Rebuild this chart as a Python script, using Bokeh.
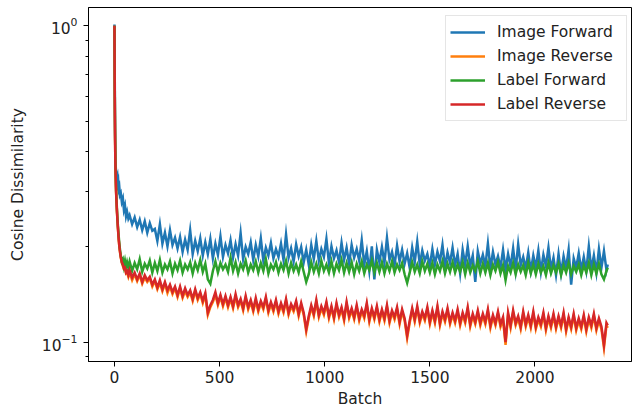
from bokeh.plotting import figure
from bokeh.models import Range1d, FixedTicker, LogTickFormatter
from bokeh.embed import file_html
from bokeh.resources import INLINE

# ---------------- data ----------------
batch = ([0, 1, 2, 3, 4, 5, 6, 7, 8, 10, 12, 14, 16, 18, 20, 23, 26, 30, 35, 40, 45, 50, 55, 60, 66]
         + list(range(72, 2341, 12)) + [2346])

image_forward = [
    1.01, 0.78, 0.58, 0.47, 0.41, 0.375, 0.36, 0.35, 0.342, 0.338, 0.33, 0.334, 0.318, 0.322, 0.305,
    0.31, 0.292, 0.296, 0.278, 0.285, 0.262, 0.27, 0.25, 0.258, 0.246,
    0.252, 0.236, 0.248, 0.231, 0.244, 0.226, 0.241, 0.222, 0.238, 0.225,
    0.228, 0.209, 0.236, 0.205, 0.222, 0.201, 0.226, 0.203, 0.214, 0.198,
    0.215, 0.193, 0.211, 0.196, 0.226, 0.19, 0.209, 0.194, 0.213, 0.188,
    0.207, 0.19, 0.212, 0.184, 0.205, 0.189, 0.216, 0.186, 0.203, 0.191,
    0.21, 0.185, 0.204, 0.188, 0.221, 0.183, 0.2, 0.19, 0.207, 0.182,
    0.203, 0.187, 0.213, 0.181, 0.199, 0.188, 0.206, 0.184, 0.197, 0.186,
    0.205, 0.182, 0.219, 0.185, 0.198, 0.18, 0.204, 0.187, 0.2, 0.179,
    0.196, 0.176, 0.203, 0.183, 0.209, 0.181, 0.197, 0.186, 0.212, 0.178,
    0.201, 0.184, 0.195, 0.179, 0.206, 0.182, 0.199, 0.177, 0.203, 0.185,
    0.197, 0.181, 0.21, 0.176, 0.194, 0.168, 0.201, 0.158, 0.196, 0.179,
    0.2, 0.178, 0.214, 0.182, 0.193, 0.175, 0.202, 0.18, 0.196, 0.177,
    0.191, 0.172, 0.199, 0.179, 0.208, 0.176, 0.195, 0.181, 0.19, 0.174,
    0.197, 0.176, 0.193, 0.18, 0.203, 0.173, 0.192, 0.178, 0.199, 0.175,
    0.19, 0.165, 0.196, 0.176, 0.201, 0.174, 0.188, 0.155, 0.194, 0.177,
    0.189, 0.174, 0.205, 0.171, 0.193, 0.176, 0.187, 0.172, 0.196, 0.17,
    0.19, 0.173, 0.198, 0.169, 0.204, 0.175, 0.186, 0.171, 0.192, 0.168,
    0.188, 0.172, 0.195, 0.167, 0.189, 0.174, 0.199, 0.17, 0.185, 0.163,
    0.19, 0.165, 0.187, 0.171, 0.196, 0.152, 0.184, 0.172, 0.191, 0.169,
    0.186, 0.168, 0.201, 0.17, 0.188, 0.166, 0.197, 0.172, 0.194, 0.169,
    0.176,
]

image_reverse = [
    1.0, 0.7, 0.52, 0.43, 0.38, 0.35, 0.33, 0.31, 0.294, 0.274, 0.257, 0.243, 0.231, 0.221, 0.211,
    0.201, 0.193, 0.185, 0.178, 0.174, 0.17, 0.17, 0.165, 0.166, 0.161,
    0.166, 0.157, 0.164, 0.156, 0.163, 0.153, 0.16, 0.155, 0.159, 0.15,
    0.156, 0.147, 0.154, 0.145, 0.153, 0.143, 0.15, 0.142, 0.148, 0.139,
    0.148, 0.138, 0.145, 0.139, 0.144, 0.135, 0.145, 0.136, 0.142, 0.133,
    0.141, 0.122, 0.129, 0.134, 0.141, 0.131, 0.139, 0.13, 0.138, 0.129,
    0.137, 0.128, 0.139, 0.129, 0.135, 0.126, 0.138, 0.127, 0.134, 0.125,
    0.135, 0.125, 0.133, 0.127, 0.137, 0.124, 0.132, 0.125, 0.134, 0.123,
    0.131, 0.124, 0.135, 0.122, 0.13, 0.125, 0.133, 0.121, 0.131, 0.122,
    0.108, 0.119, 0.129, 0.121, 0.134, 0.12, 0.128, 0.122, 0.132, 0.119,
    0.128, 0.118, 0.131, 0.12, 0.127, 0.117, 0.132, 0.119, 0.126, 0.118,
    0.129, 0.117, 0.125, 0.119, 0.131, 0.116, 0.126, 0.118, 0.128, 0.116,
    0.125, 0.117, 0.129, 0.115, 0.124, 0.118, 0.127, 0.114, 0.125, 0.117,
    0.103, 0.115, 0.126, 0.116, 0.128, 0.115, 0.123, 0.117, 0.127, 0.114,
    0.124, 0.115, 0.128, 0.113, 0.123, 0.116, 0.126, 0.114, 0.122, 0.115,
    0.125, 0.113, 0.122, 0.115, 0.127, 0.112, 0.121, 0.114, 0.124, 0.113,
    0.121, 0.114, 0.125, 0.111, 0.12, 0.113, 0.123, 0.112, 0.118, 0.098,
    0.122, 0.111, 0.124, 0.113, 0.119, 0.11, 0.123, 0.112, 0.12, 0.111,
    0.123, 0.11, 0.118, 0.112, 0.122, 0.109, 0.119, 0.111, 0.121, 0.11,
    0.119, 0.111, 0.122, 0.108, 0.118, 0.11, 0.121, 0.109, 0.117, 0.11,
    0.12, 0.108, 0.118, 0.111, 0.121, 0.109, 0.117, 0.11, 0.096, 0.113,
    0.111,
]

label_forward = [
    1.0, 0.72, 0.55, 0.45, 0.4, 0.36, 0.335, 0.315, 0.3, 0.28, 0.262, 0.248, 0.236, 0.226, 0.217,
    0.206, 0.197, 0.188, 0.18, 0.183, 0.174, 0.181, 0.173, 0.179, 0.172,
    0.18, 0.168, 0.178, 0.17, 0.183, 0.167, 0.177, 0.171, 0.181, 0.166,
    0.178, 0.168, 0.182, 0.166, 0.176, 0.17, 0.18, 0.165, 0.177, 0.169,
    0.181, 0.166, 0.176, 0.17, 0.179, 0.165, 0.178, 0.169, 0.182, 0.167,
    0.177, 0.158, 0.153, 0.168, 0.18, 0.166, 0.178, 0.17, 0.176, 0.167,
    0.185, 0.168, 0.179, 0.165, 0.177, 0.17, 0.181, 0.166, 0.176, 0.169,
    0.18, 0.166, 0.178, 0.168, 0.183, 0.165, 0.176, 0.17, 0.179, 0.166,
    0.177, 0.169, 0.181, 0.165, 0.178, 0.168, 0.176, 0.166, 0.18, 0.167,
    0.155, 0.164, 0.179, 0.167, 0.177, 0.165, 0.181, 0.168, 0.176, 0.166,
    0.18, 0.165, 0.177, 0.169, 0.182, 0.166, 0.178, 0.167, 0.179, 0.164,
    0.177, 0.168, 0.18, 0.165, 0.176, 0.169, 0.181, 0.166, 0.178, 0.167,
    0.179, 0.165, 0.177, 0.168, 0.18, 0.166, 0.176, 0.169, 0.178, 0.164,
    0.154, 0.166, 0.179, 0.167, 0.176, 0.165, 0.18, 0.168, 0.177, 0.166,
    0.178, 0.164, 0.176, 0.168, 0.18, 0.165, 0.177, 0.167, 0.179, 0.166,
    0.176, 0.167, 0.179, 0.164, 0.178, 0.166, 0.175, 0.168, 0.18, 0.165,
    0.177, 0.166, 0.178, 0.163, 0.176, 0.168, 0.179, 0.165, 0.175, 0.157,
    0.174, 0.166, 0.178, 0.164, 0.176, 0.167, 0.175, 0.163, 0.178, 0.165,
    0.176, 0.164, 0.177, 0.166, 0.174, 0.163, 0.178, 0.165, 0.175, 0.166,
    0.177, 0.163, 0.175, 0.166, 0.178, 0.164, 0.174, 0.167, 0.176, 0.163,
    0.175, 0.166, 0.178, 0.163, 0.176, 0.165, 0.177, 0.164, 0.158, 0.168,
    0.172,
]

label_reverse = [
    1.0, 0.7, 0.52, 0.43, 0.38, 0.35, 0.33, 0.31, 0.295, 0.275, 0.258, 0.244, 0.232, 0.222, 0.212,
    0.202, 0.194, 0.186, 0.179, 0.176, 0.171, 0.172, 0.166, 0.168, 0.163,
    0.169, 0.16, 0.166, 0.158, 0.165, 0.155, 0.163, 0.157, 0.161, 0.152,
    0.158, 0.149, 0.157, 0.147, 0.155, 0.146, 0.152, 0.144, 0.15, 0.141,
    0.15, 0.14, 0.148, 0.141, 0.146, 0.137, 0.147, 0.138, 0.144, 0.135,
    0.143, 0.124, 0.131, 0.136, 0.144, 0.133, 0.141, 0.132, 0.14, 0.131,
    0.139, 0.13, 0.142, 0.131, 0.137, 0.128, 0.14, 0.129, 0.136, 0.127,
    0.138, 0.127, 0.135, 0.129, 0.139, 0.126, 0.134, 0.127, 0.136, 0.125,
    0.133, 0.126, 0.137, 0.124, 0.132, 0.127, 0.135, 0.123, 0.133, 0.124,
    0.11, 0.121, 0.131, 0.123, 0.136, 0.122, 0.13, 0.124, 0.134, 0.121,
    0.13, 0.12, 0.133, 0.122, 0.129, 0.119, 0.134, 0.121, 0.128, 0.12,
    0.131, 0.119, 0.127, 0.121, 0.133, 0.118, 0.128, 0.12, 0.13, 0.118,
    0.127, 0.119, 0.131, 0.117, 0.126, 0.12, 0.129, 0.116, 0.127, 0.119,
    0.105, 0.117, 0.128, 0.118, 0.13, 0.117, 0.125, 0.119, 0.129, 0.116,
    0.126, 0.117, 0.13, 0.115, 0.125, 0.118, 0.128, 0.116, 0.124, 0.117,
    0.127, 0.115, 0.124, 0.117, 0.129, 0.114, 0.123, 0.116, 0.126, 0.115,
    0.123, 0.116, 0.127, 0.113, 0.122, 0.115, 0.125, 0.114, 0.12, 0.1,
    0.124, 0.113, 0.126, 0.115, 0.121, 0.112, 0.125, 0.114, 0.122, 0.113,
    0.125, 0.112, 0.12, 0.114, 0.124, 0.111, 0.121, 0.113, 0.123, 0.112,
    0.121, 0.113, 0.124, 0.11, 0.12, 0.112, 0.123, 0.111, 0.119, 0.112,
    0.122, 0.11, 0.12, 0.113, 0.123, 0.111, 0.119, 0.112, 0.098, 0.115,
    0.113,
]

series_names = ["Image Forward", "Image Reverse", "Label Forward", "Label Reverse"]
series_colors = ["#1f77b4", "#ff7f0e", "#2ca02c", "#d62728"]
x_ticks = [0, 500, 1000, 1500, 2000]
y_ticks = [0.1, 1.0]
y_minor_ticks = [0.09, 0.2, 0.3, 0.4, 0.5, 0.6, 0.7, 0.8, 0.9]

# ---------------- figure ----------------
FONT = "DejaVu Sans"
FS = "15.5px"
p = figure(width=634, height=414, y_axis_type="log",
           x_range=Range1d(-123.5, 2459), y_range=Range1d(0.0869, 1.143),
           output_backend="svg", toolbar_location=None,
           min_border_left=88, min_border_right=3, min_border_top=7, min_border_bottom=53)

all_series = [image_forward, image_reverse, label_forward, label_reverse]
for name, color, ys in zip(series_names, series_colors, all_series):
    n = min(len(batch), len(ys))
    p.line(batch[:n], ys[:n], line_color=color, line_width=2.5, legend_label=name,
           line_join="miter")

p.xgrid.visible = False
p.ygrid.visible = False
p.outline_line_color = "black"
p.outline_line_width = 1
p.outline_line_alpha = 1
p.background_fill_color = "white"
p.border_fill_color = "white"

p.xaxis.ticker = FixedTicker(ticks=x_ticks)
p.yaxis.ticker = FixedTicker(ticks=y_ticks, minor_ticks=y_minor_ticks)
p.yaxis.formatter = LogTickFormatter()

for ax in (p.xaxis[0], p.yaxis[0]):
    ax.axis_line_color = "black"
    ax.major_tick_line_color = "black"
    ax.minor_tick_line_color = "black"
    ax.major_tick_in = 0
    ax.major_tick_out = 5
    ax.minor_tick_in = 0
    ax.minor_tick_out = 3
    ax.major_label_text_font = FONT
    ax.major_label_text_font_size = FS
    ax.major_label_text_color = "#222222"
    ax.axis_label_text_font = FONT
    ax.axis_label_text_font_size = FS
    ax.axis_label_text_font_style = "normal"
    ax.axis_label_text_color = "#222222"

p.xaxis.axis_label = "Batch"
p.yaxis.axis_label = "Cosine Dissimilarity"
p.xaxis.axis_label_standoff = 4
p.yaxis.axis_label_standoff = 12
p.xaxis.major_label_standoff = 4
p.yaxis.major_label_standoff = 6

leg = p.legend[0]
leg.location = (357, 240)
leg.margin = 0
leg.padding = 4
leg.spacing = 0
leg.label_height = 24
leg.glyph_height = 24
leg.glyph_width = 35
leg.label_width = 125
leg.label_standoff = 12
leg.label_text_font = FONT
leg.label_text_font_size = FS
leg.label_text_color = "#222222"
leg.border_line_color = "#cccccc"
leg.border_line_width = 1
leg.background_fill_alpha = 0.8

open("out.html", "w").write(file_html(p, INLINE))
